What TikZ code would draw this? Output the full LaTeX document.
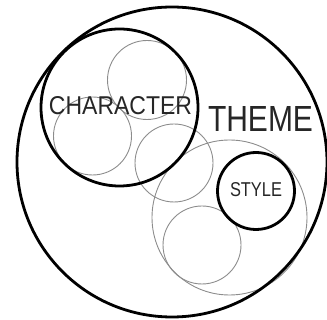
\documentclass[tikz,border=0pt]{standalone}
\usepackage{fontspec}
\setmainfont{Liberation Sans}
\begin{document}
\begin{tikzpicture}[x=1pt,y=-1pt,
  thick circ/.style={draw=black,line width=2.8pt},
  thin circ/.style={draw=black!45,line width=0.9pt},
  lbl/.style={inner sep=0pt,text=black!85}]
\useasboundingbox (0,0) rectangle (327,320);
% thin circles
\draw[thin circ] (147,80) circle[radius=39.5];
\draw[thin circ] (92.5,136) circle[radius=39];
\draw[thin circ] (174,163) circle[radius=39];
\draw[thin circ] (229.5,217.5) circle[radius=77.5];
\draw[thin circ] (202,245) circle[radius=39];
% thick circles
\draw[thick circ] (172,162) circle[radius=155];
\draw[thick circ] (119.5,107.5) circle[radius=78.5];
\draw[thick circ] (256,191) circle[radius=38.5];
% labels
\node[lbl] (character) at (120.5,106) {\resizebox{143pt}{18pt}{CHARACTER}};
\node[lbl] (theme) at (260.5,119.5) {\resizebox{105pt}{25pt}{THEME}};
\node[lbl] (style) at (256,190) {\resizebox{52pt}{14pt}{STYLE}};
\end{tikzpicture}
\end{document}
